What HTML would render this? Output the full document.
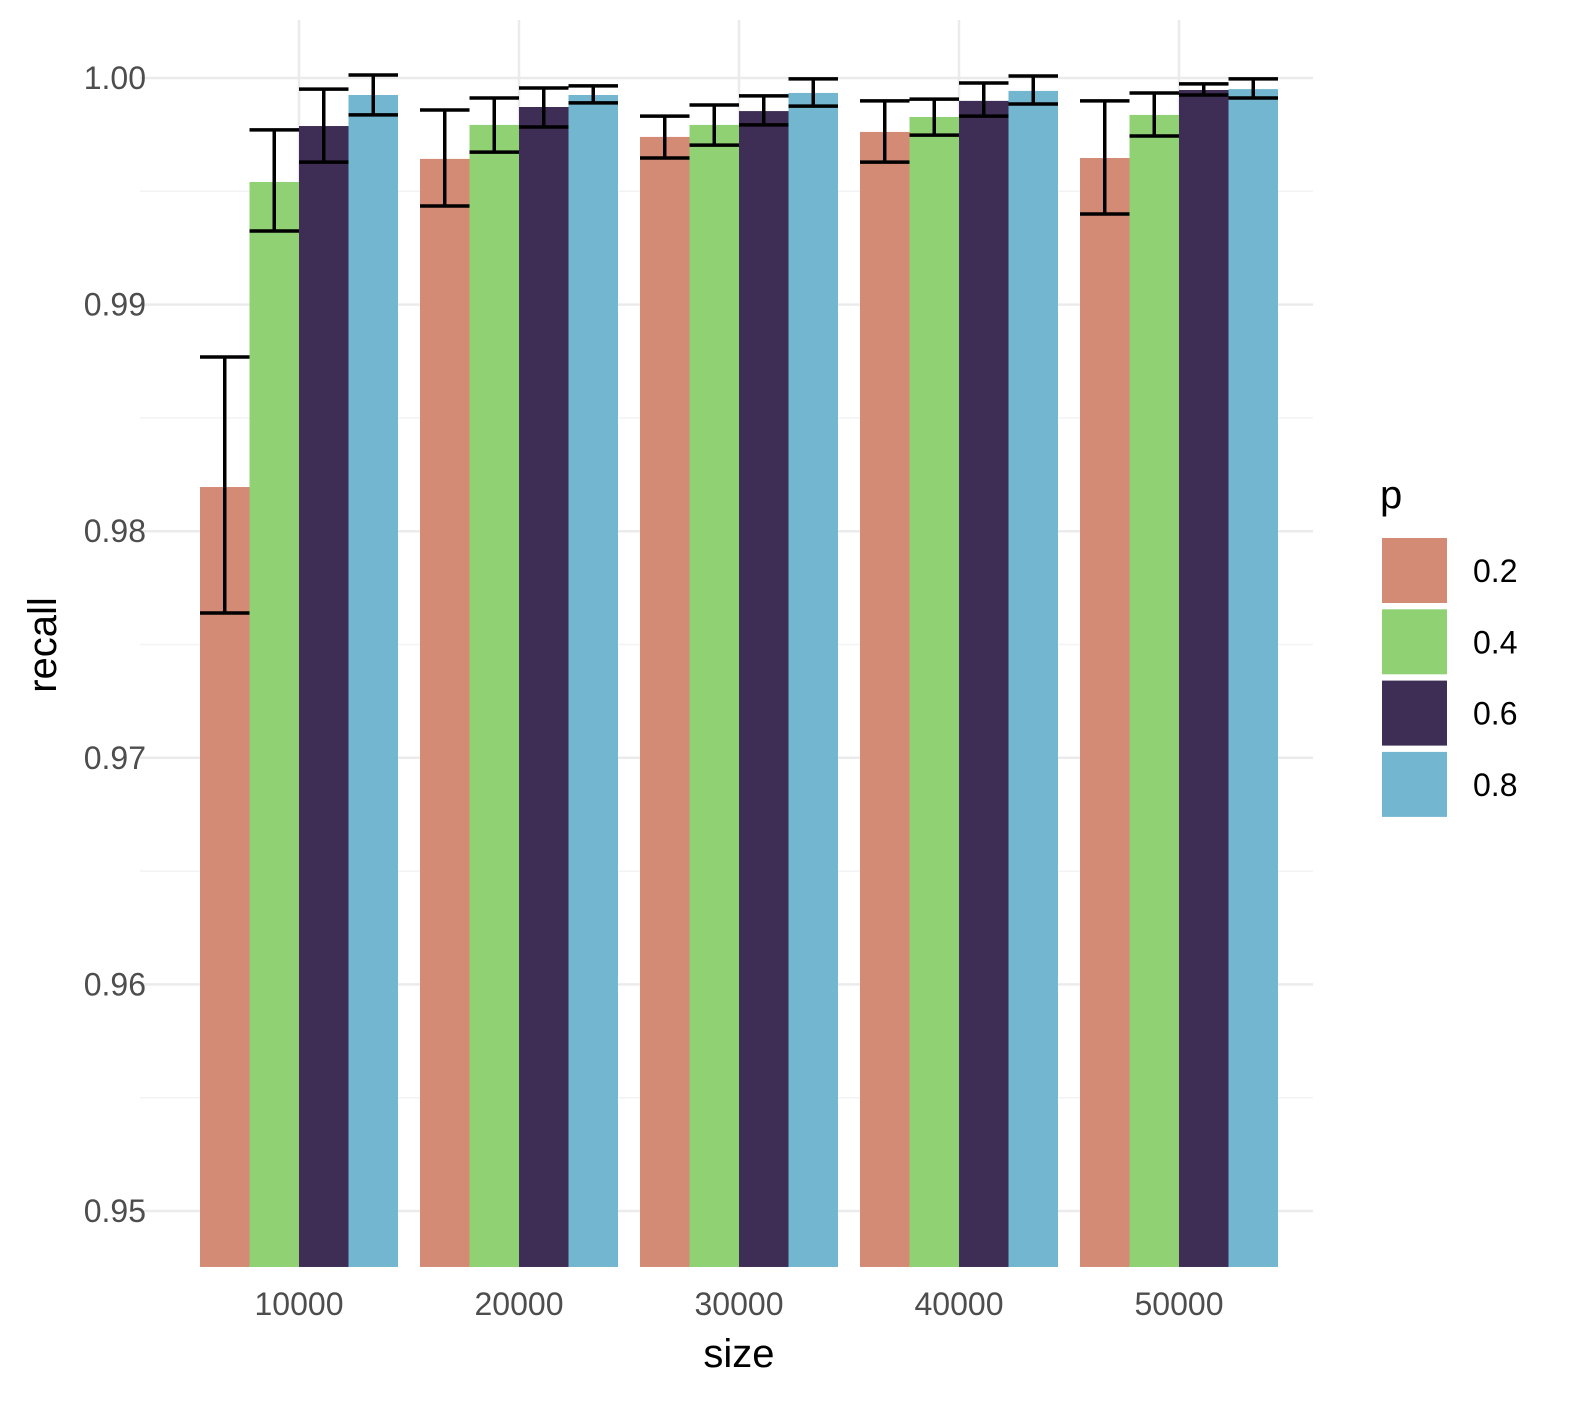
<!DOCTYPE html>
<html><head><meta charset="utf-8"><style>
body{margin:0;background:#fff;}
svg{display:block;font-family:"Liberation Sans",sans-serif;}
</style></head><body>
<svg id="chart" width="1584" height="1415"></svg>
<script>
const categories=["10000","20000","30000","40000","50000"];
const groups=["0.2","0.4","0.6","0.8"];
const colors=["#d38b76","#8fd173","#3e2d54","#72b6cf"];
const vals02=[0.98195,0.99643,0.9974,0.99762,0.99647];
const vals04=[0.99541,0.99793,0.99793,0.99828,0.99837];
const vals06=[0.99788,0.99872,0.99854,0.99899,0.99947];
const vals08=[0.99925,0.99925,0.99934,0.99943,0.99951];
const hi02=[0.98769,0.99859,0.99832,0.99899,0.99899];
const lo02=[0.97639,0.99435,0.99647,0.99629,0.994];
const hi04=[0.99771,0.99912,0.99881,0.99907,0.99934];
const lo04=[0.99325,0.99673,0.99704,0.99748,0.99744];
const hi06=[0.99951,0.99956,0.99921,0.99978,0.99974];
const lo06=[0.99629,0.99784,0.99793,0.99832,0.99925];
const hi08=[1.00013,0.99965,0.99996,1.00009,0.99996];
const lo08=[0.99837,0.9989,0.99876,0.99885,0.99912];
const yTicks=[0.95,0.96,0.97,0.98,0.99,1.00];
const yTickLabels=["0.95","0.96","0.97","0.98","0.99","1.00"];

const vals=[vals02,vals04,vals06,vals08],his=[hi02,hi04,hi06,hi08],los=[lo02,lo04,lo06,lo08];
const NS="http://www.w3.org/2000/svg";
const svg=document.getElementById('chart');
function y(v){return 78+(1.0-v)*22660;}
function x(i){return 299+i*220;}
const bw=49.5;
function mk(t,a,p){const e=document.createElementNS(NS,t);for(const k in a)e.setAttribute(k,a[k]);(p||svg).appendChild(e);return e;}
for(let k=0;k<yTicks.length;k++){
 const g=mk('line',{x1:140,x2:1313,y1:y(yTicks[k]),y2:y(yTicks[k]),stroke:'#ebebeb','stroke-width':2.5});
 
 
 const m=mk('line',{x1:140,x2:1313,y1:y(yTicks[k]+0.005),y2:y(yTicks[k]+0.005),stroke:'#f3f3f3','stroke-width':1.5});
 
 
 const t=mk('text',{x:146,y:y(yTicks[k])+11,'text-anchor':'end','font-size':32,fill:'#4d4d4d'});
 t.textContent=yTickLabels[k];
 
 
}
for(let i=0;i<categories.length;i++){
 const g=mk('line',{x1:x(i),x2:x(i),y1:20,y2:1267,stroke:'#ebebeb','stroke-width':2.5});
 
 
}
const base=y(0.94753);
for(let i=0;i<categories.length;i++){
 for(let s=0;s<4;s++){
  const cx=x(i)+(s-1.5)*bw;
  const r=mk('rect',{x:cx-bw/2,y:y(vals[s][i]),width:bw,height:base-y(vals[s][i]),fill:colors[s]});
  
  
 }
 for(let s=0;s<4;s++){
  const cx=x(i)+(s-1.5)*bw;
  const g=mk('g',{stroke:'#000','stroke-width':3.5});
  
  
  mk('line',{x1:cx,x2:cx,y1:y(his[s][i]),y2:y(los[s][i])},g);
  mk('line',{x1:cx-bw/2,x2:cx+bw/2,y1:y(his[s][i]),y2:y(his[s][i])},g);
  mk('line',{x1:cx-bw/2,x2:cx+bw/2,y1:y(los[s][i]),y2:y(los[s][i])},g);
 }
 const t=mk('text',{x:x(i),y:1315,'text-anchor':'middle','font-size':32,fill:'#4d4d4d'});
 t.textContent=categories[i];
 
 
}
let t=mk('text',{x:739,y:1367,'text-anchor':'middle','font-size':40,fill:'#000'});
t.textContent='size';


t=mk('text',{x:0,y:0,'text-anchor':'middle','font-size':40,fill:'#000',transform:'translate(56,645) rotate(-90)'});
t.textContent='recall';


t=mk('text',{x:1380,y:508,'font-size':40,fill:'#000'});
t.textContent='p';


for(let s=0;s<4;s++){
 const yy=538+s*71.3;
 const r=mk('rect',{x:1382,y:yy,width:65,height:65,fill:colors[s]});
 
 
 const l=mk('text',{x:1473,y:yy+44,'font-size':32,fill:'#000'});
 l.textContent=groups[s];
 
 
}
</script>
</body></html>
